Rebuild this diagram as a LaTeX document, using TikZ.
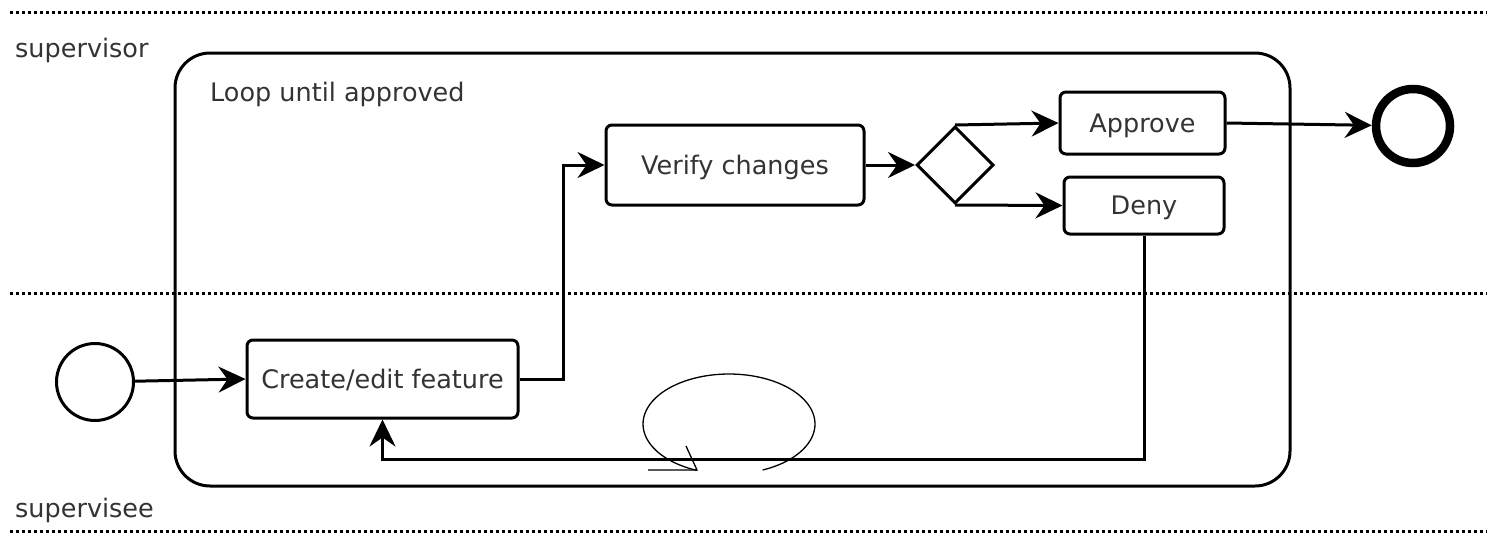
\documentclass[tikz,border=0pt]{standalone}
\usepackage{fontspec}
\setmainfont{DejaVu Sans}
\usetikzlibrary{shapes.geometric,arrows.meta}
\definecolor{textgray}{HTML}{333333}
\tikzset{
  lane/.style={line width=3pt, dash pattern=on 3pt off 3pt, black},
  tbox/.style={draw, rounded corners=6pt, line width=3pt, fill=white, text=textgray, inner sep=0pt, text height=18.5pt, text depth=0pt},
  lbl/.style={text=textgray, inner sep=0pt, anchor=west, text height=18.5pt, text depth=0pt},
  flow/.style={line width=3pt, -{Stealth[length=27pt, width=26pt, inset=9pt]}},
  evt/.style={draw, circle, inner sep=0pt, fill=white},
}
\begin{document}
\begin{tikzpicture}[x=1pt, y=-1pt, font=\fontsize{25.5}{30}\selectfont]
\useasboundingbox (0,0) rectangle (1487,533);
% lanes
\coordinate (l1a) at (10,12); \coordinate (l1b) at (1487,12);
\coordinate (l2a) at (10,293); \coordinate (l2b) at (1487,293);
\coordinate (l3a) at (10,531); \coordinate (l3b) at (1487,531);
\draw[lane] (l1a) -- (l1b);
\draw[lane] (l2a) -- (l2b);
\draw[lane] (l3a) -- (l3b);
\node[lbl] (sup) at (15,48) {supervisor};
\node[lbl] (sue) at (15,508) {supervisee};
% loop container
\node[draw, rounded corners=35pt, line width=3pt, minimum width=1115pt, minimum height=433pt, inner sep=0pt] (loop) at (732.5,269.5) {};
\node[lbl] (looplbl) at (210,92) {Loop until approved};
% nodes
\node[evt, line width=3pt, minimum size=77pt] (start) at (95,382) {};
\node[tbox, minimum width=271pt, minimum height=78pt] (create) at (382.5,379) {Create/edit feature};
\node[tbox, minimum width=258pt, minimum height=80pt] (verify) at (735,165) {Verify changes};
\node[draw, diamond, line width=3pt, minimum width=77pt, minimum height=77pt, inner sep=0pt, fill=white] (gw) at (955,165) {};
\node[tbox, minimum width=165pt, minimum height=62pt] (approve) at (1142.5,123) {Approve};
\node[tbox, minimum width=160pt, minimum height=57pt] (deny) at (1144,205.5) {Deny};
\node[evt, line width=8.5pt, minimum size=74pt] (end) at (1413,126) {};
% loop marker
\draw[line width=1.3pt] plot[domain=67:-248, samples=80, smooth] ({729+86*cos(\x)}, {424+50*sin(\x)});
\coordinate (mk1) at (648,470); \coordinate (mk2) at (697,470); \coordinate (mk3) at (686,446);
\draw[line width=1.3pt] (mk1) -- (mk2) -- (mk3);
% flows
\draw[flow] (start) -- (create.west);
\draw[flow] (create.east) -- ++(44,0) |- (verify.west);
\draw[flow] (verify.east) -- (gw.west);
\draw[flow] (gw.north) -- (approve.west);
\draw[flow] (gw.south) -- (deny.west);
\draw[flow] (approve.east) -- (end);
\coordinate (back) at (1144,459);
\draw[flow] (deny.south) -- (back) -| (create.south);
\end{tikzpicture}
\end{document}
